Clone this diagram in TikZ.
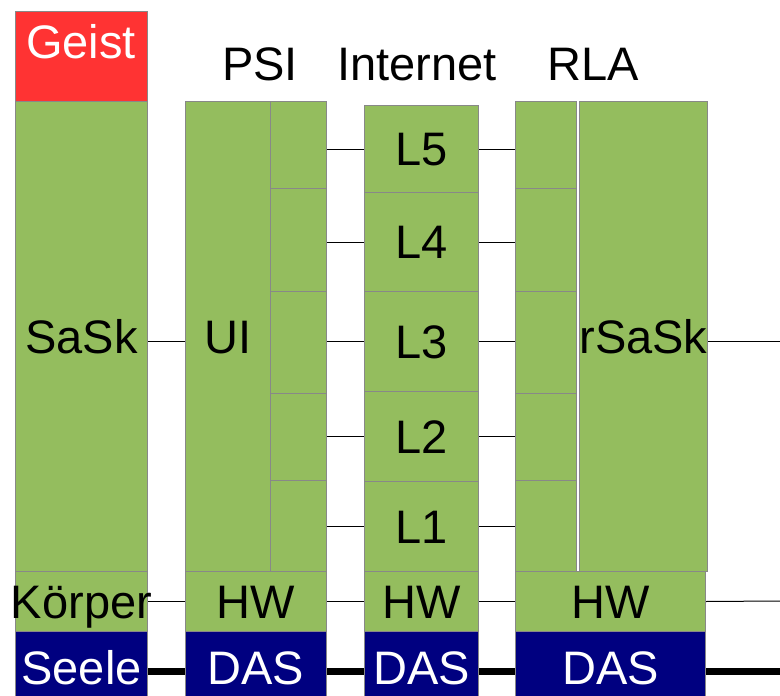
\documentclass[tikz,border=0pt]{standalone}
\usepackage{fontspec}
\setmainfont{Liberation Sans}
\usetikzlibrary{calc}
\definecolor{boxgreen}{HTML}{94BD5E}
\definecolor{boxgray}{HTML}{888888}
\definecolor{geistred}{HTML}{FF3333}
\definecolor{dasnavy}{HTML}{000080}
\tikzset{
  txt/.style={font=\fontsize{47}{54}\selectfont, inner sep=0pt,
              text height=39pt, text depth=5.35pt},
  blk/.style={txt, draw=boxgray, line width=1pt, anchor=north west,
              fill=boxgreen, text=black},
  navyblk/.style={blk, fill=dasnavy, text=white},
  redblk/.style={blk, fill=geistred},
  thin/.style={draw=black, line width=1pt},
  bus/.style={draw=black, line width=7pt},
}
\begin{document}
\begin{tikzpicture}[x=1pt, y=-1pt]
\useasboundingbox (0,0) rectangle (780,696);
\clip (0,0) rectangle (780,696);

% column titles
\node[txt] (tpsi) at (260,64) {PSI};
\node[txt] (tnet) at (417,64) {Internet};
\node[txt] (trla) at (593,64) {RLA};

% human side
\node[redblk, minimum width=132pt, minimum height=90pt] (geist) at (15,11) {};
\node[txt, text=white] (geistlbl) at (81,42) {Geist};
\node[blk, minimum width=132pt, minimum height=470pt] (sask) at (15,101) {SaSk};
\node[blk, minimum width=132pt, minimum height=60pt] (koerper) at (15,571) {\makebox[0pt]{Körper}};
\node[navyblk, minimum width=132pt, minimum height=72pt] (seele) at (15,631) {Seele};

% PSI stack
\node[blk, minimum width=85pt, minimum height=470pt] (ui) at (185,101) {UI};
\node[blk, minimum width=56pt, minimum height=87pt] (psi5) at (270,101) {};
\node[blk, minimum width=56pt, minimum height=103pt] (psi4) at (270,188) {};
\node[blk, minimum width=56pt, minimum height=102pt] (psi3) at (270,291) {};
\node[blk, minimum width=56pt, minimum height=87pt] (psi2) at (270,393) {};
\node[blk, minimum width=56pt, minimum height=91pt] (psi1) at (270,480) {};
\node[blk, minimum width=141pt, minimum height=60pt] (hwa) at (185,571) {HW};
\node[navyblk, minimum width=141pt, minimum height=72pt] (dasa) at (185,631) {DAS};

% Internet layers
\node[blk, minimum width=114pt, minimum height=87pt] (l5) at (364,105) {L5};
\node[blk, minimum width=114pt, minimum height=99pt] (l4) at (364,192) {L4};
\node[blk, minimum width=114pt, minimum height=100pt] (l3) at (364,291) {L3};
\node[blk, minimum width=114pt, minimum height=90pt] (l2) at (364,391) {L2};
\node[blk, minimum width=114pt, minimum height=90pt] (l1) at (364,481) {L1};
\node[blk, minimum width=114pt, minimum height=60pt] (hwb) at (364,571) {HW};
\node[navyblk, minimum width=114pt, minimum height=72pt] (dasb) at (364,631) {DAS};

% RLA stack
\node[blk, minimum width=61pt, minimum height=87pt] (rla5) at (515,101) {};
\node[blk, minimum width=61pt, minimum height=103pt] (rla4) at (515,188) {};
\node[blk, minimum width=61pt, minimum height=102pt] (rla3) at (515,291) {};
\node[blk, minimum width=61pt, minimum height=87pt] (rla2) at (515,393) {};
\node[blk, minimum width=61pt, minimum height=91pt] (rla1) at (515,480) {};
\node[blk, minimum width=128pt, minimum height=470pt] (rsask) at (579,101) {rSaSk};
\node[blk, minimum width=190pt, minimum height=60pt] (hwc) at (515,571) {HW};
\node[navyblk, minimum width=190pt, minimum height=72pt] (dasc) at (515,631) {DAS};

% open ends at the right margin
\coordinate (endsask) at (780,341);
\coordinate (endhw) at (780,601);
\coordinate (endbus) at (780,671);

% layer links
\draw[thin] (sask.east |- l3.west) -- (ui.west |- l3.west);
\foreach \k in {1,...,5} {
  \draw[thin] (psi\k.east |- l\k.west) -- (l\k.west);
  \draw[thin] (l\k.east) -- (rla\k.west |- l\k.east);
}
\draw[thin] (rsask.east |- endsask) -- (endsask);

% hardware links
\draw[thin] (koerper.east) -- (hwa.west);
\draw[thin] (hwa.east) -- (hwb.west);
\draw[thin] (hwb.east) -- (hwc.west);
\draw[thin] (hwc.east) -- (endhw);

% DAS bus
\draw[bus] (seele.east |- endbus) -- (dasa.west |- endbus);
\draw[bus] (dasa.east |- endbus) -- (dasb.west |- endbus);
\draw[bus] (dasb.east |- endbus) -- (dasc.west |- endbus);
\draw[bus] (dasc.east |- endbus) -- (endbus);
\end{tikzpicture}
\end{document}
